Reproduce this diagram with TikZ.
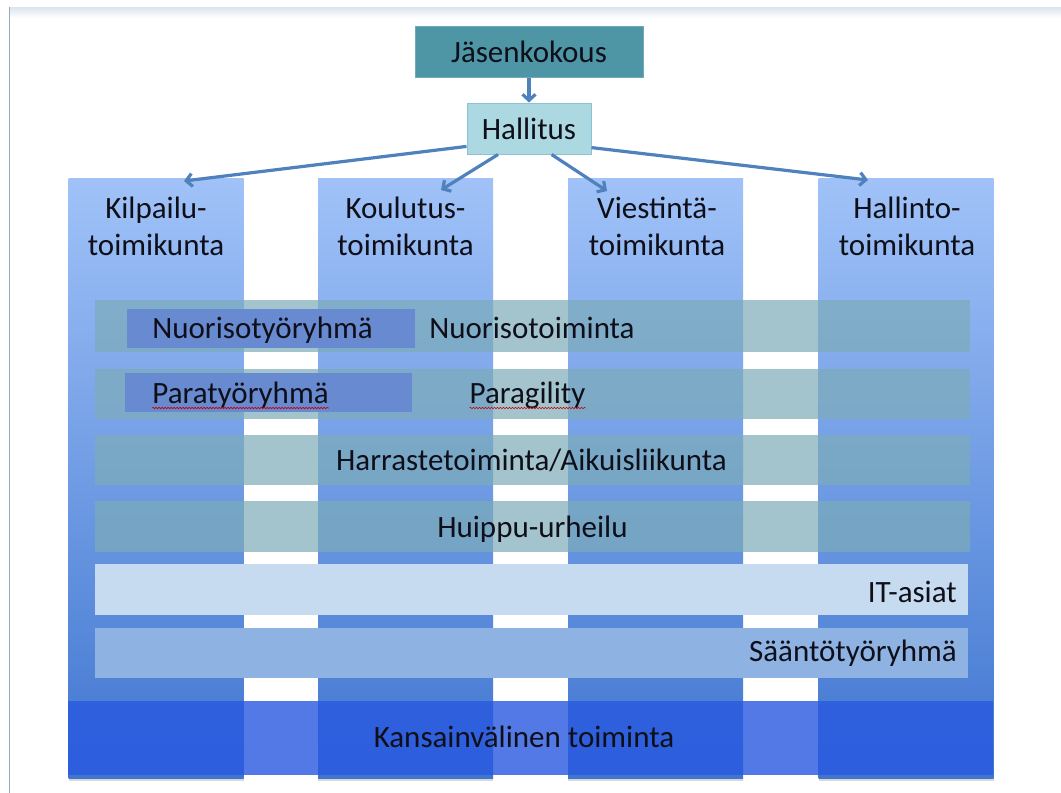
\documentclass[tikz,border=0pt]{standalone}
\usepackage{fontspec}
\setmainfont{Carlito}
\usetikzlibrary{arrows.meta,decorations.pathmorphing,shadows}
\definecolor{jasfill}{RGB}{78,150,166}
\definecolor{jasline}{RGB}{110,170,185}
\definecolor{halfill}{RGB}{172,216,226}
\definecolor{halline}{RGB}{140,195,210}
\definecolor{arrcol}{RGB}{79,129,189}
\definecolor{coltop}{RGB}{160,194,248}
\definecolor{colbot}{RGB}{64,118,208}
\definecolor{rowcol}{RGB}{124,172,185}
\definecolor{subcol}{RGB}{104,138,208}
\definecolor{itcol}{RGB}{198,218,240}
\definecolor{saacol}{RGB}{142,178,226}
\definecolor{kanscol}{RGB}{40,88,224}
\definecolor{framecol}{RGB}{150,170,200}
\definecolor{bandcol}{RGB}{218,228,238}
\definecolor{txtcol}{RGB}{15,15,25}
\tikzset{
  bigfont/.style={font=\fontsize{31}{37}\selectfont},
  jasbox/.style={draw=jasline, line width=1pt, fill=jasfill, minimum width=228pt, minimum height=51pt, inner sep=0pt, text=txtcol, bigfont},
  halbox/.style={draw=halline, line width=1pt, fill=halfill, minimum width=124pt, minimum height=51pt, inner sep=0pt, text=txtcol, bigfont},
  colbox/.style={top color=coltop, bottom color=colbot, minimum width=175pt, minimum height=600pt, inner sep=0pt,
    drop shadow={shadow xshift=0pt, shadow yshift=-3pt, opacity=0.3}},
  rowbar/.style={fill=rowcol, fill opacity=0.7, minimum width=875pt, inner sep=0pt},
  subbox/.style={fill=subcol, minimum width=288pt, minimum height=39pt, inner sep=0pt},
  itbar/.style={fill=itcol, minimum width=873pt, minimum height=51pt, inner sep=0pt},
  saabar/.style={fill=saacol, minimum width=873pt, minimum height=50pt, inner sep=0pt},
  kansbar/.style={fill=kanscol, fill opacity=0.8, minimum width=925pt, minimum height=74pt, inner sep=0pt},
  txt/.style={bigfont, text=txtcol, inner sep=0pt, anchor=base},
  head/.style={bigfont, text=txtcol, inner sep=0pt, anchor=north, align=center},
  arr/.style={draw=arrcol, line width=3.2pt, -{Straight Barb[length=6pt,width=13pt]}},
  squig/.style={draw=red!80!black, line width=0.6pt, decorate, decoration={snake, amplitude=0.7pt, segment length=3pt}}
}
\begin{document}
\begin{tikzpicture}[x=1pt,y=-1pt]
\useasboundingbox (0,0) rectangle (1061,793);
\fill[white] (0,0) rectangle (1061,793);
% slide frame
\shade[top color=bandcol, bottom color=white] (9,7) rectangle (1061,18);
\draw[framecol, line width=1.2pt] (9.5,7) -- (9.5,793);
\draw[bandcol, line width=0.8pt] (9.5,7) -- (1061,7);

% columns
\node[colbox] (c1) at (156,478) {};
\node[colbox] (c2) at (405.5,478) {};
\node[colbox] (c3) at (655.5,478) {};
\node[colbox] (c4) at (906,478) {};

\node[head] (h1) at (156,197) {Kilpailu-\\toimikunta};
\node[head] (h2) at (405.5,197) {Koulutus-\\toimikunta};
\node[head] (h3) at (657,197) {Viestintä-\\toimikunta};
\node[head] (h4) at (907,197) {Hallinto-\\toimikunta};

% top boxes
\node[jasbox] (jas) at (529,51.5) {Jäsenkokous};
\node[halbox] (hal) at (529,128.5) {Hallitus};

\coordinate (e1) at (184,181);
\coordinate (e2) at (441,190);
\coordinate (e3) at (607,191);
\coordinate (e4) at (868,180);
\draw[arr] (jas) -- (hal);
\draw[arr] (hal.196) -- (e1);
\draw[arr] (hal.220) -- (e2);
\draw[arr] (hal.311) -- (e3);
\draw[arr] (hal.343) -- (e4);

% horizontal bars
\node[rowbar, minimum height=52pt] (r1) at (532.5,326) {};
\node[rowbar, minimum height=50pt] (r2) at (532.5,393.5) {};
\node[rowbar, minimum height=50pt] (r3) at (532.5,460) {};
\node[rowbar, minimum height=51pt] (r4) at (532.5,526.5) {};
\node[itbar] (r5) at (531.5,589.5) {};
\node[saabar] (r6) at (531.5,653) {};
\node[kansbar] (r7) at (530.5,738) {};

% sub boxes
\node[subbox] (n1) at (271,328.5) {};
\node[subbox, minimum width=287pt] (p1) at (268.5,392.5) {};

% texts
\node[txt] (tn1) at (262.5,338) {Nuorisotyöryhmä};
\node[txt] (tn2) at (532,338) {Nuorisotoiminta};
\node[txt] (tp1) at (240.5,403) {Paratyöryhmä};
\node[txt] (tp2) at (527.5,403) {Paragility};
\node[txt] (th1) at (531.5,470) {Harrastetoiminta/Aikuisliikunta};
\node[txt] (th2) at (532.5,537) {Huippu-urheilu};
\node[txt, anchor=base east] (tit) at (957,602) {IT-asiat};
\node[txt, anchor=base east] (tsa) at (957,661) {Sääntötyöryhmä};
\node[txt] (tka) at (524,747) {Kansainvälinen toiminta};

% spell-check squiggles
\draw[squig] ([yshift=-5pt]tp1.base west) -- ([yshift=-5pt]tp1.base east);
\draw[squig] ([yshift=-5pt]tp2.base west) -- ([yshift=-5pt]tp2.base east);
\end{tikzpicture}
\end{document}
